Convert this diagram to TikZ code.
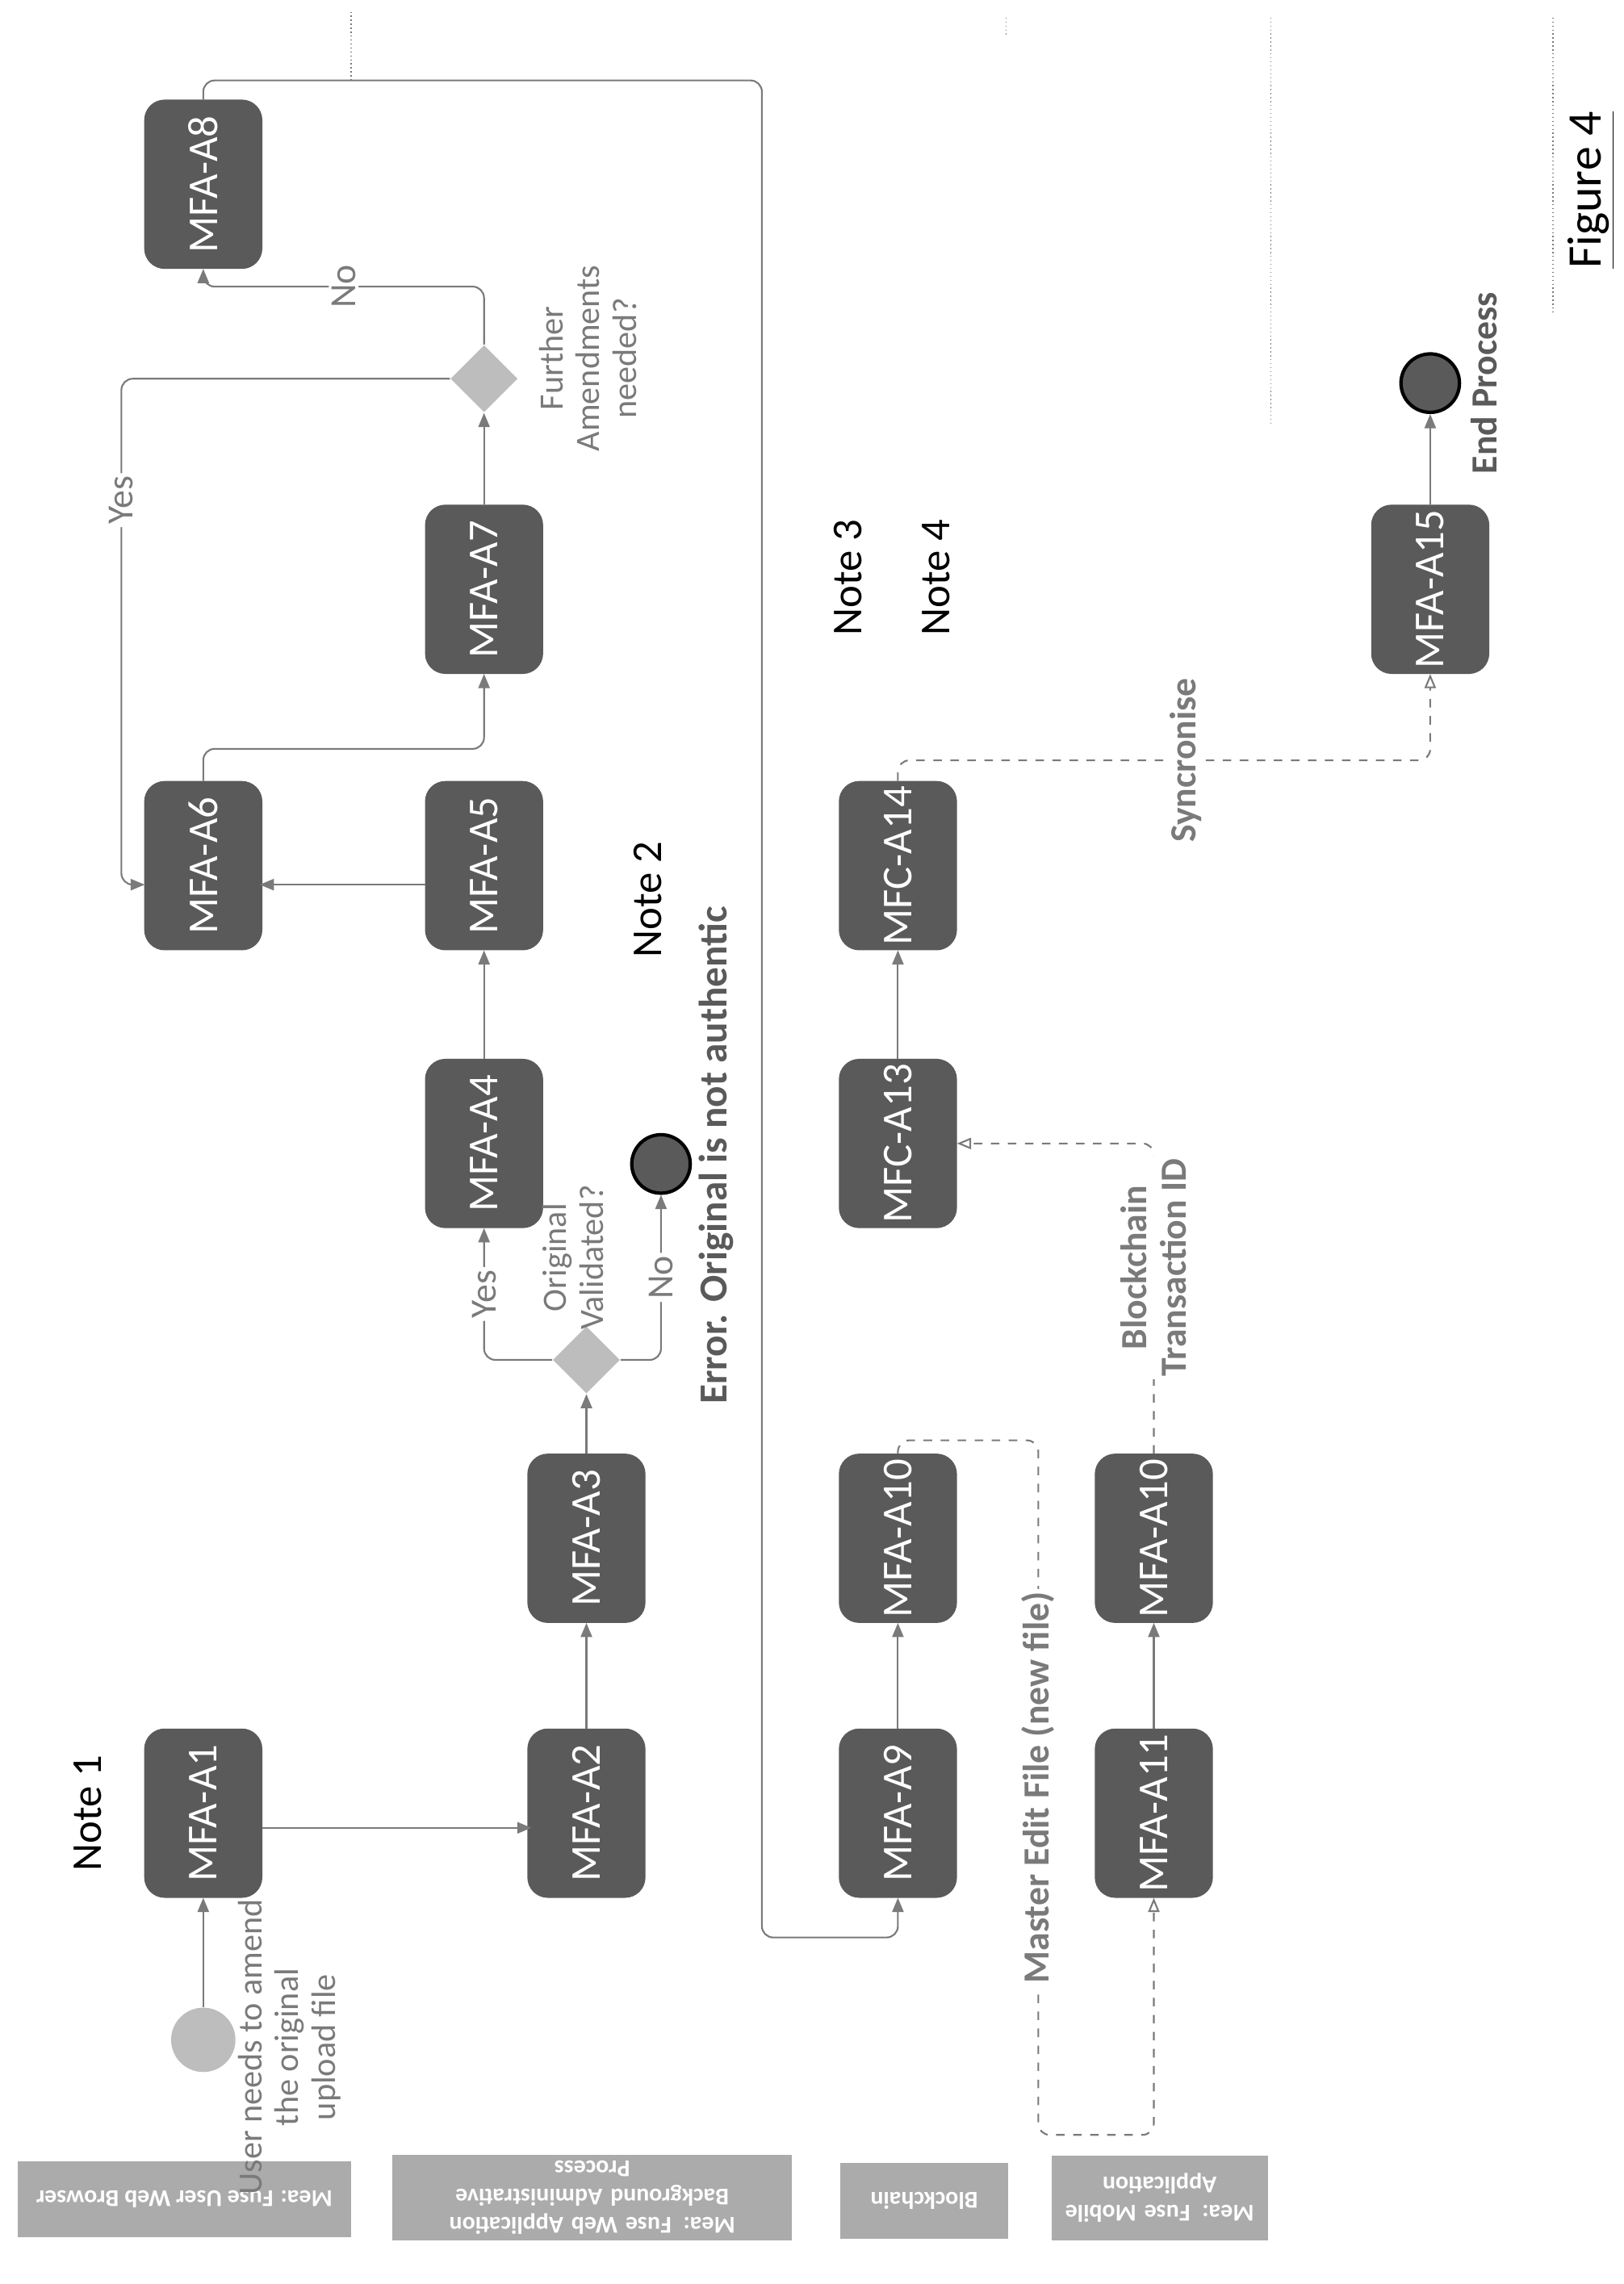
\documentclass[tikz,border=0pt]{standalone}
\usepackage{fontspec}
\setmainfont{Carlito}
\usetikzlibrary{shapes.geometric,arrows.meta}
\definecolor{boxgray}{HTML}{5A5A5A}
\definecolor{linegray}{HTML}{7A7A7A}
\definecolor{lightgray}{HTML}{BDBDBD}
\tikzset{task/.style={rounded corners=7pt, fill=boxgray, draw=boxgray, minimum width=115*0.01811cm, minimum height=80*0.01811cm, rotate=90, text=white, font=\fontsize{15}{15}\selectfont, inner sep=0pt}}
\tikzset{choice/.style={diamond, fill=lightgray, minimum width=46*0.01811cm, minimum height=46*0.01811cm, inner sep=0pt}}
\tikzset{flow/.style={color=linegray, line width=.6pt, -{Triangle[length=5pt,width=4pt]}, rounded corners=4pt}}
\tikzset{sync/.style={color=linegray, line width=.6pt, dashed, -{Triangle[open,length=5pt,width=4pt]}, rounded corners=4pt}}
\tikzset{lbl/.style={rotate=90, fill=white, inner sep=1pt, text=linegray, font=\fontsize{13}{14}\selectfont}}
\tikzset{lane/.style={fill=lightgray!70!gray, rotate=180, text=white, font=\bfseries\fontsize{8.5}{10}\selectfont, align=center, inner sep=2pt}}
\tikzset{note/.style={rotate=90, font=\fontsize{15}{16}\selectfont}}
\tikzset{ask/.style={rotate=90, align=center, text=linegray, font=\fontsize{12}{13}\selectfont}}

\begin{document}
\begin{tikzpicture}[x=0.01811cm, y=-0.01811cm]
  \useasboundingbox (0,0) rectangle (1110,1562);
  % lanes
  \node[lane, minimum width=228*0.01811cm, minimum height=52*0.01811cm] (laneA) at (126,1504) {Mea: Fuse User Web Browser};
  \node[lane, minimum width=273*0.01811cm, minimum height=58*0.01811cm, text width=265*0.01811cm] (laneB) at (405,1503) {Mea: Fuse Web Application Background Administrative\\Process};
  \node[lane, minimum width=115*0.01811cm, minimum height=52*0.01811cm] (laneC) at (632,1505) {Blockchain};
  \node[lane, minimum width=146*0.01811cm, minimum height=58*0.01811cm, text width=140*0.01811cm] (laneD) at (793,1503) {Mea: Fuse Mobile\\Application};
  \foreach \x/\a/\b in {240/8/55, 688/12/25, 869/12/290, 1062/12/215}
    \draw[linegray, densely dotted, line width=.4pt] (\x,\a) -- (\x,\b);

  % steps
  \node[task] (a1) at (139,1240) {MFA-A1};
  \node[task] (a2) at (401,1240) {MFA-A2};
  \node[task] (a3) at (401,1052) {MFA-A3};
  \node[task] (a4) at (331,782) {MFA-A4};
  \node[task] (a5) at (331,592) {MFA-A5};
  \node[task] (a6) at (139,592) {MFA-A6};
  \node[task] (a7) at (331,403) {MFA-A7};
  \node[task] (a8) at (139,126) {MFA-A8};
  \node[task] (a9) at (614,1240) {MFA-A9};
  \node[task] (a10) at (614,1052) {MFA-A10};
  \node[task] (c13) at (614,782) {MFC-A13};
  \node[task] (c14) at (614,592) {MFC-A14};
  \node[task] (a11) at (789,1240) {MFA-A11};
  \node[task] (b10) at (789,1052) {MFA-A10};
  \node[task] (a15) at (978,403) {MFA-A15};
  \node[choice] (valid) at (401,930) {};
  \node[choice] (more) at (331,259) {};
  \node[circle, fill=lightgray, minimum size=44*0.01811cm] (start) at (139,1395) {};
  \node[circle, fill=boxgray, draw=black, line width=1.2pt, minimum size=40*0.01811cm] (err) at (452,796) {};
  \node[circle, fill=boxgray, draw=black, line width=1.2pt, minimum size=40*0.01811cm] (stop) at (978,262) {};

  % texts
  \node[note] (n1) at (60,1240) {Note 1};
  \node[note] (n2) at (443,615) {Note 2};
  \node[note] (n3) at (580,395) {Note 3};
  \node[note] (n4) at (640,395) {Note 4};
  \node[ask] (t1) at (198,1400) {User needs to amend\\the original\\upload file};
  \node[ask] (t2) at (392,860) {Original\\Validated?};
  \node[ask] (t3) at (402,245) {Further\\Amendments\\needed?};
  \node[rotate=90, font=\bfseries\fontsize{14}{15}\selectfont, text=boxgray] (t4) at (490,790) {Error. Original is not authentic};
  \node[rotate=90, font=\bfseries\fontsize{13}{14}\selectfont, text=boxgray] (t5) at (1015,262) {End Process};
  \node[rotate=90, font=\fontsize{17}{18}\selectfont] (fig) at (1088,130) {\underline{Figure 4}};

  % connectors
  \draw[flow] (start) -- (a1);
  \draw[flow] (a1.south) ++(0,10) -- ++(184,0);
  \draw[flow] (a2) -- (a3);
  \draw[flow] (a3) -- (valid);
  \draw[flow] (valid.west) -| node[lbl, pos=.75] {Yes} (a4.west);
  \draw[flow] (valid.east) -| node[lbl, pos=.75] {No} (err);
  \draw[flow] (a4) -- (a5);
  \draw[flow] (a5.north) ++(0,13) -- ++(-113,0);
  \draw[flow] (a6.east) -- ++(0,-22) -| (a7.west);
  \draw[flow] (a7) -- (more);
  \draw[flow] (more.west) -| node[lbl, pos=.62] {Yes} (83,605) -- (99,605);
  \draw[flow] (more.north) |- node[lbl, pos=.75] {No} (139,196) -- (a8.west);
  \draw[flow] (a8.east) |- (521,55) |- (614,1325) -- (a9.west);
  \draw[flow] (a9) -- (a10);
  \draw[sync] (a10.east) |- (710,985) |- node[lbl, pos=.25, font=\bfseries\fontsize{13}{14}\selectfont] {Master Edit File (new file)} (789,1460) -- (a11.west);
  \draw[flow] (a11) -- (b10);
  \draw[sync] (b10.east) |- node[lbl, pos=.3, align=center, font=\bfseries\fontsize{13}{14}\selectfont] {Blockchain\\Transaction ID} (c13.south);
  \draw[flow] (c13) -- (c14);
  \draw[sync] (c14.east) |- node[lbl, pos=.77, font=\bfseries\fontsize{13}{14}\selectfont] {Syncronise} (978,520) -- (a15.west);
  \draw[flow] (a15) -- (stop);
\end{tikzpicture}
\end{document}
